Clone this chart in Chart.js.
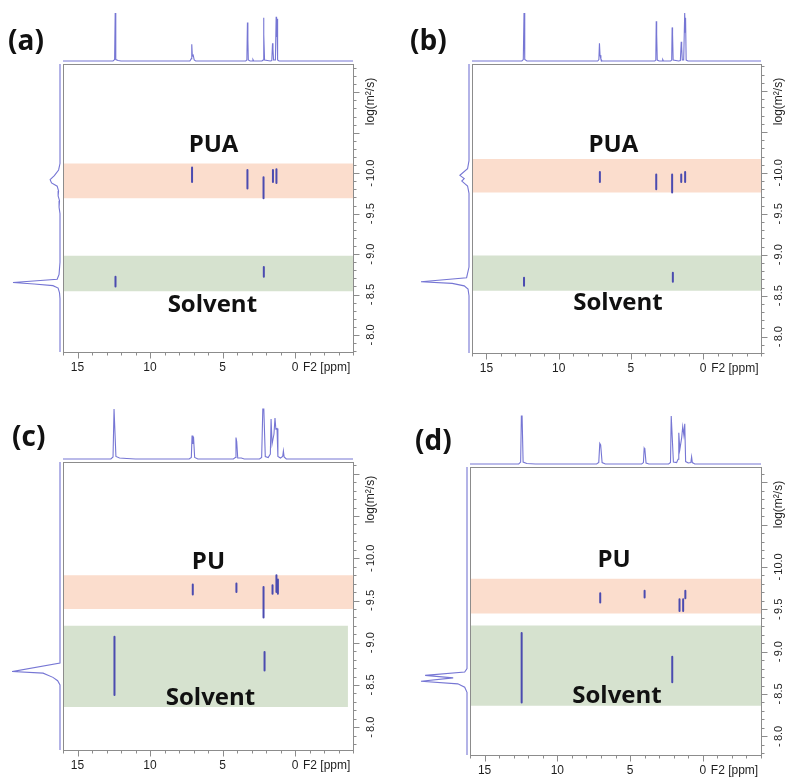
<!DOCTYPE html>
<html>
<head>
<meta charset="utf-8">
<script src="https://cdn.jsdelivr.net/npm/chart.js@4.4.1/dist/chart.umd.min.js"></script>
<style>
html, body { margin: 0; padding: 0; background: #fff; }
#fig { position: relative; width: 786px; height: 777px; overflow: hidden; }
#fig canvas { position: absolute; }
.tag { position: absolute; font: bold 28px 'Open Sans', sans-serif; color: #111; line-height: 1; }
</style>
</head>
<body>
<div id="fig"></div>
<script>
// 1D proton spectra on top of each panel: [ppm, relative intensity]
const specA = [[16,0],[12.55,0],[12.44,0.03],[12.4,1.0],[12.36,0.03],[12.2,0.01],[12.0,0],
  [7.25,0],[7.15,0.05],[7.12,0.35],[7.08,0.1],[7.02,0.12],[6.95,0.02],[6.85,0],
  [3.4,0],[3.32,0.02],[3.28,0.8],[3.25,0.45],[3.22,0.02],[3.1,0],
  [2.95,0],[2.9,0.03],[2.85,0],
  [2.28,0],[2.2,0.02],[2.17,0.9],[2.14,0.55],[2.1,0.02],[1.7,0],
  [1.6,0.01],[1.55,0.37],[1.52,0.25],[1.48,0.02],[1.35,0.02],[1.3,0.92],[1.27,0.5],[1.24,0.88],[1.2,0.02],[1.1,0],[-4,0]];
const specB = [[16,0],[12.55,0],[12.45,0.03],[12.4,1.0],[12.35,0.03],[12.2,0],
  [7.3,0],[7.22,0.03],[7.18,0.37],[7.14,0.12],[7.08,0.04],[7.0,0],
  [3.35,0],[3.28,0.02],[3.25,0.83],[3.22,0.55],[3.18,0.02],[3.05,0],
  [2.85,0],[2.8,0.03],[2.75,0],
  [2.25,0],[2.18,0.02],[2.15,0.7],[2.12,0.55],[2.08,0.02],[1.7,0],
  [1.58,0.01],[1.52,0.4],[1.49,0.3],[1.45,0.02],[1.35,0.02],[1.28,1.0],[1.25,0.6],[1.22,0.9],[1.18,0.02],[1.05,0],[-4,0]];
const specC = [[16,0],[12.7,0],[12.55,0.04],[12.48,1.0],[12.42,1.0],[12.35,0.05],[12.1,0.02],[11.6,0.01],[11.0,0],
  [7.3,0],[7.15,0.03],[7.1,0.47],[7.05,0.3],[7.0,0.45],[6.92,0.03],[6.7,0],
  [4.25,0],[4.12,0.03],[4.07,0.43],[4.02,0.35],[3.95,0.02],[3.7,0.02],[3.5,0],
  [2.45,0],[2.3,0.03],[2.22,1.0],[2.15,1.0],[2.05,0.05],[1.85,0.03],
  [1.7,0.1],[1.65,0.8],[1.58,0.3],[1.45,0.5],[1.38,0.82],[1.32,0.6],[1.24,0.61],[1.18,0.05],[1.0,0.02],
  [0.85,0.05],[0.8,0.16],[0.75,0.04],[0.6,0],[-4,0]];
const specD = [[16,0],[12.65,0],[12.52,0.04],[12.47,1.0],[12.42,1.0],[12.35,0.04],[12.1,0.01],[11.5,0],
  [7.3,0],[7.15,0.03],[7.08,0.43],[7.02,0.4],[6.92,0.03],[6.7,0],
  [4.2,0],[4.08,0.03],[4.03,0.33],[3.98,0.3],[3.9,0.02],[3.7,0],
  [2.35,0],[2.22,0.03],[2.17,1.0],[2.12,1.0],[2.02,0.04],[1.8,0.03],
  [1.7,0.1],[1.65,0.65],[1.58,0.3],[1.45,0.55],[1.38,0.78],[1.3,0.6],[1.24,0.84],[1.18,0.05],[1.0,0.02],
  [0.82,0.03],[0.77,0.15],[0.72,0.03],[0.55,0],[-4,0]];

// diffusion projections on the left: [relative intensity, log D]
const projA = [[0,-11.35],[0,-10.12],[0.03,-10.04],[0.12,-9.97],[0.21,-9.92],[0.18,-9.88],[0.06,-9.84],[0.03,-9.78],
  [0.04,-9.72],[0.01,-9.66],[0.02,-9.58],[0,-9.5],[0,-8.9],[0.02,-8.75],[0.06,-8.69],[1.0,-8.65],[0.55,-8.63],
  [0.15,-8.61],[0.04,-8.58],[0.01,-8.52],[0,-8.45],[0,-7.79]];
const projB = [[0,-11.33],[0,-10.15],[0.03,-10.05],[0.19,-9.97],[0.1,-9.93],[0.15,-9.9],[0.03,-9.84],[0,-9.75],
  [0,-8.85],[0.05,-8.72],[1.0,-8.67],[0.35,-8.65],[0.1,-8.62],[0.02,-8.58],[0,-8.5],[0,-7.8]];
const projC = [[0,-11.14],[0,-8.76],[1.0,-8.66],[0.36,-8.64],[0.15,-8.59],[0.05,-8.55],[0,-8.5],[0,-7.73]];
const projD = [[0,-11.18],[0,-8.8],[0.05,-8.76],[0.91,-8.72],[0.3,-8.69],[1.0,-8.65],[0.2,-8.62],[0.05,-8.58],[0,-8.52],[0,-7.78]];

// DOSY cross peaks: chemical shift, log D start, log D end
const crossA_ppm = [7.1, 3.28, 2.17, 1.52, 1.28, 12.38, 2.15];
const crossA_from = [-10.07, -10.04, -9.95, -10.04, -10.05, -8.72, -8.84];
const crossA_to = [-9.89, -9.81, -9.69, -9.89, -9.88, -8.6, -8.72];
const crossB_ppm = [7.15, 3.25, 2.15, 1.52, 1.25, 12.4, 2.1];
const crossB_from = [-10.01, -9.98, -9.98, -9.98, -10.01, -8.72, -8.78];
const crossB_to = [-9.89, -9.8, -9.76, -9.89, -9.89, -8.62, -8.67];
const crossC_ppm = [7.05, 4.04, 2.17, 1.55, 1.28, 1.18, 12.45, 2.1];
const crossC_from = [-9.69, -9.7, -9.66, -9.68, -9.8, -9.75, -9.07, -8.89];
const crossC_to = [-9.57, -9.6, -9.3, -9.58, -9.6, -9.58, -8.38, -8.67];
const crossD_ppm = [7.05, 4.0, 1.6, 1.35, 1.2, 12.45, 2.1];
const crossD_from = [-9.69, -9.72, -9.62, -9.62, -9.72, -9.22, -8.94];
const crossD_to = [-9.58, -9.64, -9.48, -9.48, -9.63, -8.4, -8.64];

// highlighted log D bands (polymer, solvent)
const bandA_from = [-10.12, -8.98], bandA_to = [-9.69, -8.54], bandA_end = [-4, -4];
const bandB_from = [-10.17, -8.99], bandB_to = [-9.76, -8.56], bandB_end = [-4, -4];
const bandC_from = [-9.8, -9.2], bandC_to = [-9.4, -8.24], bandC_end = [-4, -3.65];
const bandD_from = [-9.86, -9.31], bandD_to = [-9.45, -8.36], bandD_end = [-4, -4];

// band captions
const labelA = ['PUA', 'Solvent'], labelA_ppm = [5.62, 5.7], labelA_logD = [-10.35, -8.37];
const labelB = ['PUA', 'Solvent'], labelB_ppm = [6.22, 5.9], labelB_logD = [-10.34, -8.41];
const labelC = ['PU', 'Solvent'], labelC_ppm = [5.97, 5.83], labelC_logD = [-9.95, -8.34];
const labelD = ['PU', 'Solvent'], labelD_ppm = [6.1, 5.9], labelD_logD = [-10.08, -8.47];

// axes
const ppmRange = [-4, 16];
const logDRangeA = [-11.35, -7.79], logDRangeB = [-11.33, -7.8], logDRangeC = [-11.14, -7.73], logDRangeD = [-11.18, -7.78];
const ppmTickLabels = [15, 10, 5, 0];
const logDTickLabels = [-10.0, -9.5, -9.0, -8.5, -8.0];

const SPEC = '#7676d4';
const PEAK = '#4b4bb0';
const BAND_COLORS = ['rgba(251, 221, 205, 1)', 'rgba(214, 226, 207, 1)'];
const fig = document.getElementById('fig');

function addCanvas(left, top, w, h) {
  const c = document.createElement('canvas');
  c.width = w; c.height = h;
  c.style.left = left + 'px'; c.style.top = top + 'px';
  c.style.width = w + 'px'; c.style.height = h + 'px';
  fig.appendChild(c);
  return c;
}

const base = {
  responsive: false, animation: false, events: [], devicePixelRatio: 1,
  plugins: { legend: { display: false }, tooltip: { enabled: false } }
};

const framePlugin = {
  id: 'frame',
  afterDatasetsDraw(chart, args, opts) {
    const { ctx, chartArea: a, scales: { x, y } } = chart;
    ctx.save();
    // caption text
    ctx.fillStyle = '#111';
    ctx.font = "bold 24px 'Open Sans'";
    ctx.textAlign = 'center'; ctx.textBaseline = 'middle';
    opts.text.forEach((t, i) => ctx.fillText(t, x.getPixelForValue(opts.ppm[i]), y.getPixelForValue(opts.logD[i])));
    // box and ticks
    ctx.strokeStyle = '#8c8c8c'; ctx.lineWidth = 1;
    const l = Math.round(a.left) + 0.5, t = Math.round(a.top) + 0.5, r = Math.round(a.right) + 0.5, b = Math.round(a.bottom) + 0.5;
    ctx.strokeRect(l, t, r - l, b - t);
    ctx.beginPath();
    for (let v = Math.ceil(x.min); v <= x.max; v++) {
      const px = Math.round(x.getPixelForValue(v)) + 0.5;
      ctx.moveTo(px, b); ctx.lineTo(px, b + (v % 5 === 0 ? 6 : 3));
    }
    for (let k = Math.ceil(y.min * 10); k <= Math.floor(y.max * 10); k++) {
      const py = Math.round(y.getPixelForValue(k / 10)) + 0.5;
      ctx.moveTo(r, py); ctx.lineTo(r + (k % 5 === 0 ? 6 : 3), py);
    }
    ctx.stroke();
    // tick labels
    ctx.fillStyle = '#1e1e1e';
    ctx.font = "12px 'Liberation Sans'";
    ppmTickLabels.forEach(v => ctx.fillText(String(v), x.getPixelForValue(v), b + 15));
    ctx.textAlign = 'left';
    ctx.fillText('F2 [ppm]', x.getPixelForValue(0) + 8, b + 15);
    ctx.font = "11px 'Liberation Sans'";
    ctx.textAlign = 'center';
    const lx = r + 17;
    logDTickLabels.forEach(v => {
      ctx.save();
      ctx.translate(lx, y.getPixelForValue(v));
      ctx.rotate(-Math.PI / 2);
      ctx.fillText('-\u2009' + Math.abs(v).toFixed(1), 0, 0);
      ctx.restore();
    });
    ctx.save();
    ctx.translate(lx, t + 37);
    ctx.rotate(-Math.PI / 2);
    ctx.font = "12px 'Liberation Sans'";
    ctx.fillText('log(m\u00b2/s)', 0, 0);
    ctx.restore();
    ctx.restore();
  }
};

function drawPanel(p) {
  const g = p.box;
  // 2D DOSY map
  const ds = [];
  p.cross[0].forEach((ppm, i) => ds.push({
    data: [{ x: ppm, y: p.cross[1][i] }, { x: ppm, y: p.cross[2][i] }],
    borderColor: PEAK, borderWidth: 2, pointRadius: 0, order: 1, borderCapStyle: 'round'
  }));
  p.bands[0].forEach((from, i) => ds.push({
    data: [{ x: ppmRange[1], y: from }, { x: p.bands[2][i], y: from }],
    fill: { value: p.bands[1][i] }, backgroundColor: BAND_COLORS[i],
    borderWidth: 0, pointRadius: 0, order: 2
  }));
  const cm = addCanvas(g.L - 3, g.T - 3, g.R - g.L + 48, g.B - g.T + 33);
  new Chart(cm, {
    type: 'line',
    data: { datasets: ds },
    options: Object.assign({}, base, {
      layout: { padding: { left: 3, top: 3, right: 45, bottom: 30 } },
      scales: {
        x: { type: 'linear', min: ppmRange[0], max: ppmRange[1], reverse: true, display: false },
        y: { type: 'linear', min: p.logD[0], max: p.logD[1], reverse: true, display: false }
      },
      plugins: Object.assign({}, base.plugins, { frame: { text: p.labels[0], ppm: p.labels[1], logD: p.labels[2] } })
    }),
    plugins: [framePlugin]
  });

  // top 1D spectrum
  const base1 = g.T - 3;
  const cs = addCanvas(g.L, g.specTop - 1, g.R - g.L, base1 - g.specTop + 2);
  new Chart(cs, {
    type: 'line',
    data: { datasets: [{ data: p.spec.map(d => ({ x: d[0], y: d[1] })), borderColor: SPEC, borderWidth: 1.1, pointRadius: 0, tension: 0, clip: false }] },
    options: Object.assign({}, base, {
      layout: { padding: { top: 1, bottom: 1, left: 0, right: 0 } },
      scales: {
        x: { type: 'linear', min: ppmRange[0], max: ppmRange[1], reverse: true, display: false },
        y: { type: 'linear', min: 0, max: 1, display: false }
      }
    })
  });

  // left diffusion projection
  const base2 = g.L - 3;
  const cp = addCanvas(g.projTip - 1, g.T, base2 - g.projTip + 2, g.B - g.T);
  new Chart(cp, {
    type: 'line',
    data: { datasets: [{ data: p.proj.map(d => ({ x: d[0], y: d[1] })), borderColor: SPEC, borderWidth: 1.1, pointRadius: 0, tension: 0, clip: false }] },
    options: Object.assign({}, base, {
      layout: { padding: { top: 0, bottom: 0, left: 1, right: 1 } },
      scales: {
        x: { type: 'linear', min: 0, max: 1, reverse: true, display: false },
        y: { type: 'linear', min: p.logD[0], max: p.logD[1], reverse: true, display: false }
      }
    })
  });

  const tag = document.createElement('div');
  tag.className = 'tag';
  tag.textContent = p.tag;
  tag.style.left = g.tagX + 'px'; tag.style.top = g.tagY + 'px';
  fig.appendChild(tag);
}

const panels = [
  { tag: '(a)', spec: specA, proj: projA, logD: logDRangeA,
    cross: [crossA_ppm, crossA_from, crossA_to], bands: [bandA_from, bandA_to, bandA_end], labels: [labelA, labelA_ppm, labelA_logD],
    box: { L: 63, T: 64, R: 353, B: 352, specTop: 13, projTip: 13, tagX: 8, tagY: 25 } },
  { tag: '(b)', spec: specB, proj: projB, logD: logDRangeB,
    cross: [crossB_ppm, crossB_from, crossB_to], bands: [bandB_from, bandB_to, bandB_end], labels: [labelB, labelB_ppm, labelB_logD],
    box: { L: 472, T: 64, R: 761, B: 353, specTop: 13, projTip: 421, tagX: 410, tagY: 25 } },
  { tag: '(c)', spec: specC, proj: projC, logD: logDRangeC,
    cross: [crossC_ppm, crossC_from, crossC_to], bands: [bandC_from, bandC_to, bandC_end], labels: [labelC, labelC_ppm, labelC_logD],
    box: { L: 63, T: 462, R: 353, B: 750, specTop: 409, projTip: 13, tagX: 12, tagY: 421 } },
  { tag: '(d)', spec: specD, proj: projD, logD: logDRangeD,
    cross: [crossD_ppm, crossD_from, crossD_to], bands: [bandD_from, bandD_to, bandD_end], labels: [labelD, labelD_ppm, labelD_logD],
    box: { L: 470, T: 467, R: 761, B: 755, specTop: 416, projTip: 421, tagX: 415, tagY: 425 } }
];

panels.forEach(drawPanel);
</script>
</body>
</html>
